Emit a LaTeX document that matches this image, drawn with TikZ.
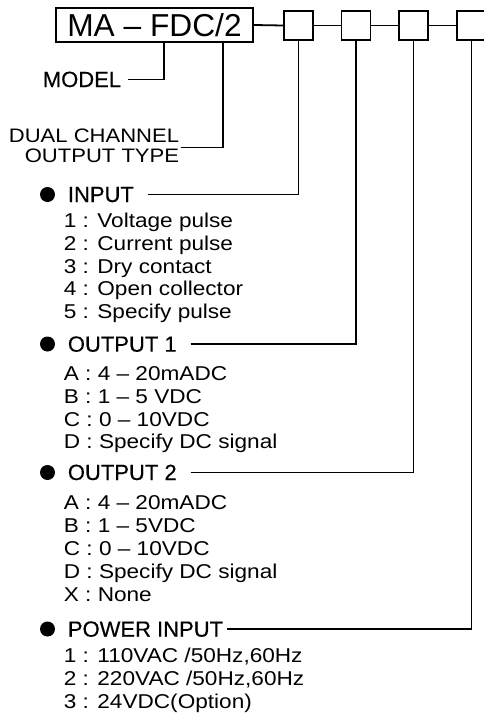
\documentclass[tikz,border=0pt]{standalone}
\usepackage{fontspec}
\setmainfont{Liberation Sans}
\newfontfamily\itemfont[FakeStretch=1.13]{Liberation Sans}
\newfontfamily\headfont[FakeBold=0.4]{Liberation Sans}
\begin{document}
\begin{tikzpicture}[x=1pt,y=-1pt,line width=1.8pt,
  mainbox/.style={draw,inner sep=0pt,minimum width=197pt,minimum height=34pt,font=\fontsize{31.7}{34}\selectfont},
  codebox/.style={draw,inner sep=0pt,minimum size=29pt},
  head/.style={inner sep=0pt,anchor=base west,font=\headfont\fontsize{22}{24}\selectfont},
  item/.style={inner sep=0pt,anchor=base west,font=\itemfont\fontsize{20}{22}\selectfont},
  dot/.style={circle,fill=black,draw=none,inner sep=0pt,minimum size=15pt}]
\useasboundingbox (0,0) rectangle (483,715);
% header
\node[mainbox] (main) at (154.5,25) {MA – FDC/2};
\node[codebox] (b1) at (298.5,25.5) {};
\node[codebox] (b2) at (356,25.5) {};
\node[codebox] (b3) at (413.5,25.5) {};
\node[codebox] (b4) at (471.5,25.5) {};
\draw (main.east) -- (b1.west);
\draw (b1.east) -- (b2.west);
\draw (b2.east) -- (b3.west);
\draw (b3.east) -- (b4.west);
% model
\coordinate (mt) at (164,42);
\node[head,anchor=base east] (model) at (122,87) {MODEL};
\draw (mt) |- ([xshift=6pt]model.east);
% dual channel
\coordinate (dt) at (223,42);
\node[item,anchor=base east,font=\itemfont\fontsize{19.5}{22}\selectfont] (dual1) at (180,142) {DUAL CHANNEL};
\node[item,anchor=base east,font=\itemfont\fontsize{19.5}{22}\selectfont] (dual2) at (180,162) {OUTPUT TYPE};
\draw (dt) |- ([xshift=1pt]dual2.north east);
% INPUT
\node[dot] (d1) at (47.5,194.5) {};
\node[head] (hin) at (67,202) {INPUT};
\draw ([xshift=13pt]hin.east) -| (b1.south);
\node[item] (in1) at (63,227.7) {1 : Voltage pulse};
\node[item] (in2) at (63,250.4) {2 : Current pulse};
\node[item] (in3) at (63,273.1) {3 : Dry contact};
\node[item] (in4) at (63,295.8) {4 : Open collector};
\node[item] (in5) at (63,318.5) {5 : Specify pulse};
% OUTPUT 1
\node[dot] (d2) at (47.5,344) {};
\node[head] (ho1) at (67,351.7) {OUTPUT 1};
\draw ([xshift=13pt]ho1.east) -| (b2.south);
\node[item] (oa1) at (63,380.5) {A : 4 – 20mADC};
\node[item] (ob1) at (63,403.3) {B : 1 – 5 VDC};
\node[item] (oc1) at (63,426.1) {C : 0 – 10VDC};
\node[item] (od1) at (63,448.9) {D : Specify DC signal};
% OUTPUT 2
\node[dot] (d3) at (47.5,472.5) {};
\node[head] (ho2) at (67,480) {OUTPUT 2};
\draw ([xshift=13pt]ho2.east) -| (b3.south);
\node[item] (oa2) at (63,509.3) {A : 4 – 20mADC};
\node[item] (ob2) at (63,532.4) {B : 1 – 5VDC};
\node[item] (oc2) at (63,555.5) {C : 0 – 10VDC};
\node[item] (od2) at (63,578.6) {D : Specify DC signal};
\node[item] (ox2) at (63,601.7) {X : None};
% POWER INPUT
\node[dot] (d4) at (47.5,629) {};
\node[head] (hpw) at (67,636.7) {POWER INPUT};
\draw ([xshift=3pt]hpw.east) -| (b4.south);
\node[item] (pw1) at (63,662.3) {1 : 110VAC /50Hz,60Hz};
\node[item] (pw2) at (63,685.2) {2 : 220VAC /50Hz,60Hz};
\node[item] (pw3) at (63,708.1) {3 : 24VDC(Option)};
\end{tikzpicture}
\end{document}
